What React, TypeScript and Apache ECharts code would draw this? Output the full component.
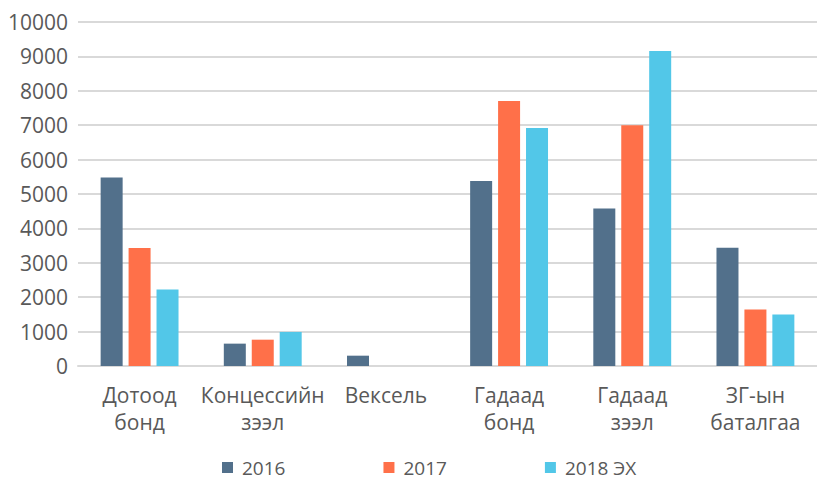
import React, { useEffect, useRef } from "react";
import * as echarts from "echarts";

const categories = ["Дотоод\nбонд", "Концессийн\nзээл", "Вексель", "Гадаад\nбонд", "Гадаад\nзээл", "ЗГ-ын\nбаталгаа"];
const seriesNames = ["2016", "2017", "2018 ЭХ"];
const values2016 = [5480, 650, 300, 5380, 4580, 3440];
const values2017 = [3430, 765, 0, 7700, 7000, 1645];
const values2018 = [2225, 990, 0, 6920, 9160, 1500];
const colors = ["#52708b", "#ff7049", "#52c7e8"];

export default function App() {
  const ref = useRef<HTMLDivElement>(null);
  useEffect(() => {
    const chart = echarts.init(ref.current!, null, { renderer: "svg" });
    const font = "'Open Sans', sans-serif";
    const data = [values2016, values2017, values2018];
    chart.setOption({
      animation: false,
      textStyle: { fontFamily: font },
      grid: { left: 78, top: 22, width: 747, bottom: 113, containLabel: false },
      legend: {
        data: seriesNames,
        left: 222,
        top: 458,
        padding: 0,
        itemWidth: 11,
        itemHeight: 11,
        itemGap: 98,
        icon: "rect",
        textStyle: { fontFamily: font, fontSize: 19, lineHeight: 18, color: "#595959", padding: [0, 0, 0, 4] },
      },
      xAxis: {
        type: "category",
        data: categories,
        axisLine: { show: true, lineStyle: { color: "#d9d9d9", width: 2 } },
        axisTick: { show: false },
        axisLabel: {
          interval: 0,
          hideOverlap: false,
          fontFamily: font,
          fontSize: 21,
          color: "#595959",
          lineHeight: 27,
          margin: 15,
        },
      },
      yAxis: {
        type: "value",
        min: 0,
        max: 10000,
        interval: 1000,
        axisLine: { show: false },
        axisTick: { show: false },
        splitLine: { lineStyle: { color: "#d9d9d9", width: 2 } },
        axisLabel: { fontFamily: font, fontSize: 21, color: "#595959", margin: 10, formatter: (v: number) => String(v) },
      },
      series: seriesNames.map((name, i) => ({
        name,
        type: "bar",
        data: data[i],
        barWidth: 22,
        barGap: "27%",
        itemStyle: { color: colors[i] },
      })),
    });
    return () => chart.dispose();
  }, []);
  return <div ref={ref} style={{ width: 817, height: 479, position: "absolute", left: 0, top: 0 }} />;
}
